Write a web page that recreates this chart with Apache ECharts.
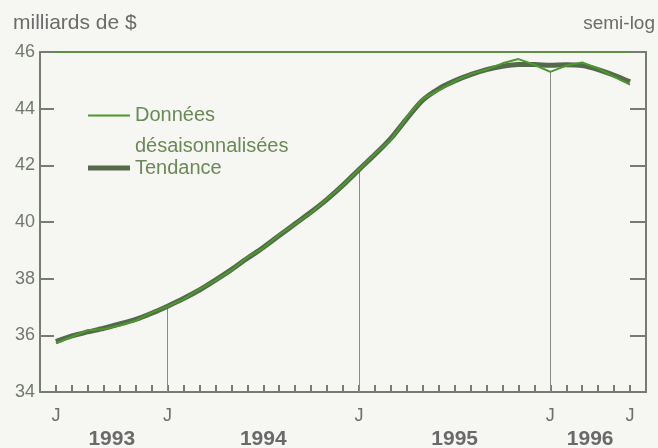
<!DOCTYPE html>
<html><head><meta charset="utf-8">
<script src="https://cdn.jsdelivr.net/npm/echarts@6/dist/echarts.min.js"></script>
<style>html,body{margin:0;padding:0;background:#f6f6f3}#c{width:658px;height:448px}</style>
</head><body><div id="c"></div>
<script>
// Months (June 1993 .. June 1996)
const months = [
  '1993-06','1993-07','1993-08','1993-09','1993-10','1993-11','1993-12',
  '1994-01','1994-02','1994-03','1994-04','1994-05','1994-06','1994-07','1994-08','1994-09','1994-10','1994-11','1994-12',
  '1995-01','1995-02','1995-03','1995-04','1995-05','1995-06','1995-07','1995-08','1995-09','1995-10','1995-11','1995-12',
  '1996-01','1996-02','1996-03','1996-04','1996-05','1996-06'
];
// Données désaisonnalisées (milliards de $)
const donnees = [
  35.72, 35.95, 36.18, 36.22, 36.35, 36.52, 36.80,
  37.02, 37.28, 37.62, 37.93, 38.30, 38.75, 39.08, 39.55, 39.93, 40.33, 40.82, 41.30,
  41.85, 42.40, 42.90, 43.70, 44.35, 44.65, 44.97, 45.22, 45.38, 45.60, 45.75, 45.55,
  45.30, 45.52, 45.63, 45.42, 45.12, 44.85
];
// Tendance
const tendance = [
  35.78, 35.98, 36.12, 36.25, 36.40, 36.56, 36.78,
  37.03, 37.30, 37.60, 37.95, 38.32, 38.72, 39.10, 39.52, 39.94, 40.35, 40.80, 41.30,
  41.85, 42.38, 42.95, 43.65, 44.30, 44.70, 44.98, 45.20, 45.38, 45.50, 45.56, 45.56,
  45.53, 45.55, 45.52, 45.38, 45.18, 44.95
];
const yMin = 34, yMax = 46, yStep = 2;
const monthInitials = ['J','F','M','A','M','J','J','A','S','O','N','D'];
const seriesNames = ['Données désaisonnalisées', 'Tendance'];
const unitText = 'milliards de $';
const scaleText = 'semi-log';

const FONT = '"Liberation Sans", Arial, Helvetica, sans-serif';
const idx = months.map((m, i) => i);
const janIdx = idx.filter(i => months[i].slice(5) === '01');
const last = months.length - 1;
const labelIdx = [0, ...janIdx, last];
const bounds = [0, ...janIdx, last];
const yearPos = bounds.slice(0, -1).map((b, k) => (b + bounds[k + 1]) / 2);
const yearText = bounds.slice(0, -1).map(b => months[b].slice(0, 4));

const axisGray = '#767c72';
const chart = echarts.init(document.getElementById('c'), null, {renderer: 'canvas'});
chart.setOption({
  backgroundColor: '#f6f6f3',
  animation: false,
  title: [
    {text: unitText, left: 13, top: 13, padding: 0, textStyle: {fontFamily: FONT, fontSize: 21, fontWeight: 'normal', color: '#6b6b6b'}},
    {text: scaleText, right: 3, top: 14, padding: 0, textStyle: {fontFamily: FONT, fontSize: 19, fontWeight: 'normal', color: '#6b6b6b'}}
  ],
  grid: {left: 40, right: 12, top: 52, bottom: 56, containLabel: false, outerBoundsMode: 'none'},
  legend: [
    {data: [seriesNames[0]], left: 88, top: 69, padding: 0, orient: 'vertical', selectedMode: false,
     icon: 'rect', itemWidth: 42, itemHeight: 2,
     formatter: () => '\nDonnées\ndésaisonnalisées',
     textStyle: {fontFamily: FONT, fontSize: 20, lineHeight: 31, color: '#6a8a55'}},
    {data: [seriesNames[1]], left: 88, top: 157, padding: 0, orient: 'vertical', selectedMode: false,
     icon: 'rect', itemWidth: 42, itemHeight: 5,
     textStyle: {fontFamily: FONT, fontSize: 20, lineHeight: 22, color: '#6a8a55'}}
  ],
  xAxis: [
    {type: 'value', min: -1, max: last + 1, position: 'bottom',
     axisLine: {show: true, onZero: false, lineStyle: {color: axisGray, width: 2}},
     axisTick: {show: true, inside: true, length: 7, customValues: idx, lineStyle: {color: axisGray, width: 2}},
     axisLabel: {customValues: labelIdx, formatter: v => monthInitials[parseInt(months[Math.round(v)].slice(5), 10) - 1],
       fontFamily: FONT, fontSize: 18, color: '#6f6f6f', margin: 15},
     splitLine: {show: false}},
    {type: 'value', min: -1, max: last + 1, position: 'top',
     axisLine: {show: true, onZero: false, lineStyle: {color: '#5f8f45', width: 2}},
     axisTick: {show: false}, axisLabel: {show: false}, splitLine: {show: false}},
    {type: 'value', min: -1, max: last + 1, position: 'bottom', offset: 23,
     axisLine: {show: false, onZero: false}, axisTick: {show: false}, splitLine: {show: false},
     axisLabel: {customValues: yearPos, formatter: v => yearText[yearPos.indexOf(v)] || '',
       fontFamily: FONT, fontSize: 21, fontWeight: 'bold', color: '#6a6a6a', margin: 14}}
  ],
  yAxis: [
    {type: 'value', min: yMin, max: yMax, interval: yStep, position: 'left',
     axisLine: {show: true, onZero: false, lineStyle: {color: axisGray, width: 2}},
     axisTick: {show: true, inside: true, length: 14, lineStyle: {color: axisGray, width: 2}},
     axisLabel: {fontFamily: FONT, fontSize: 18, color: '#727870', margin: 5},
     splitLine: {show: false}},
    {type: 'value', min: yMin, max: yMax, interval: yStep, position: 'right',
     axisLine: {show: true, onZero: false, lineStyle: {color: axisGray, width: 2}},
     axisTick: {show: true, inside: true, length: 16, lineStyle: {color: axisGray, width: 2}},
     axisLabel: {show: false}, splitLine: {show: false}}
  ],
  series: [
    {name: seriesNames[1], type: 'line', xAxisIndex: 0, yAxisIndex: 0, symbol: 'none', smooth: 0.3,
     data: idx.map(i => [i, tendance[i]]),
     lineStyle: {color: '#55694b', width: 5}, itemStyle: {color: '#55694b'}, z: 2},
    {name: seriesNames[0], type: 'line', xAxisIndex: 0, yAxisIndex: 0, symbol: 'none',
     data: idx.map(i => [i, donnees[i]]),
     lineStyle: {color: '#4a9a2c', width: 2}, itemStyle: {color: '#4a9a2c'}, z: 3,
     markLine: {silent: true, symbol: ['none', 'none'], label: {show: false}, z: 1,
       lineStyle: {color: '#8a8a8a', width: 1, type: 'solid'},
       data: janIdx.map(i => [{coord: [i, yMin]}, {coord: [i, donnees[i]]}])}}
  ]
});
</script>
</body></html>
